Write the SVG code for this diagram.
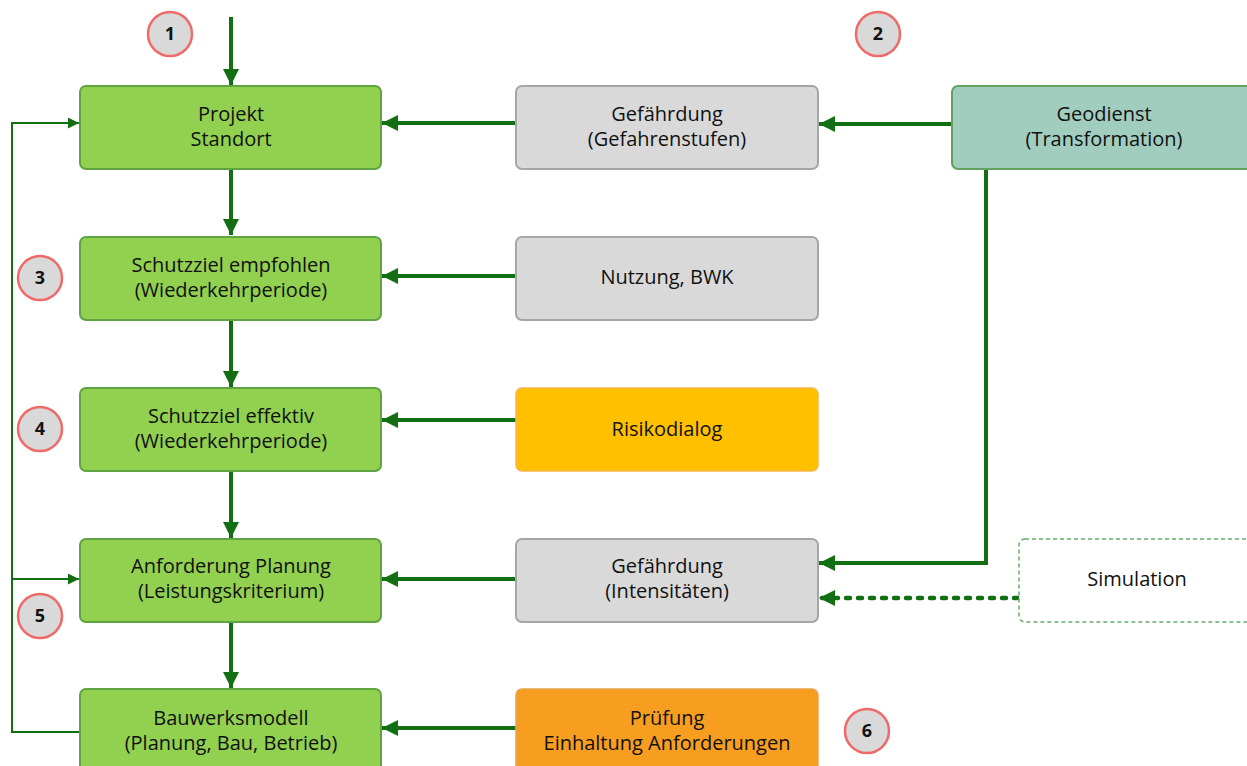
<svg xmlns="http://www.w3.org/2000/svg" width="1247" height="766" viewBox="0 0 1247 766">
  <style>
    .lbl { font-family: "Open Sans", "Noto Sans", "Liberation Sans", sans-serif; font-size: 20px; fill: #111; text-anchor: middle; }
    .num { font-family: "Open Sans", "Noto Sans", "Liberation Sans", sans-serif; font-size: 18px; font-weight: bold; fill: #111; text-anchor: middle; }
    .green { fill: #92d050; stroke: #5fa343; stroke-width: 2; }
    .grey { fill: #d9d9d9; stroke: #a6a6a6; stroke-width: 2; }
    .yellow { fill: #ffc000; stroke: #f8b54a; stroke-width: 1.5; }
    .orange { fill: #f79e21; stroke: #eaa24a; stroke-width: 1.5; }
    .teal { fill: #a1cdbf; stroke: #5fa35f; stroke-width: 2; }
    .sim { fill: #fff; stroke: #6aab6a; stroke-width: 1.5; stroke-dasharray: 4 3; }
    .badge { fill: #d9d9d9; stroke: #f06a6a; stroke-width: 2.5; }
    .thick { fill: none; stroke: #136f13; stroke-width: 4; marker-end: url(#big); }
    .thin { fill: none; stroke: #136f13; stroke-width: 2; }
    .dots { fill: none; stroke: #136f13; stroke-width: 4.5; stroke-dasharray: 4 8; stroke-linecap: round; marker-end: url(#big); }
  </style>
  <defs>
    <marker id="big" viewBox="0 0 10 10" refX="10" refY="5" markerUnits="userSpaceOnUse" markerWidth="16" markerHeight="16" orient="auto">
      <path d="M0,0 L10,5 L0,10 Z" fill="#136f13"/>
    </marker>
    <marker id="small" viewBox="0 0 10 10" refX="10" refY="5" markerUnits="userSpaceOnUse" markerWidth="11" markerHeight="11" orient="auto">
      <path d="M0,0 L10,5 L0,10 Z" fill="#136f13"/>
    </marker>
  </defs>

  <!-- connectors -->
  <g id="connectors">
    <path class="thick" d="M231,17 V85"/>
    <path class="thick" d="M231,169 V235"/>
    <path class="thick" d="M231,320 V387"/>
    <path class="thick" d="M231,471 V538"/>
    <path class="thick" d="M231,622 V688"/>
    <path class="thick" d="M516,123 H382"/>
    <path class="thick" d="M952,124 H819"/>
    <path class="thick" d="M516,276 H382"/>
    <path class="thick" d="M516,420 H382"/>
    <path class="thick" d="M516,579 H382"/>
    <path class="thick" d="M516,728 H382"/>
    <path class="thick" d="M986,169 V563 H819"/>
    <path class="dots" d="M1018,598 H819"/>
    <!-- feedback loop -->
    <path class="thin" d="M80,732 H12 V123 H79" marker-end="url(#small)"/>
    <path class="thin" d="M12,579 H79" marker-end="url(#small)"/>
  </g>

  <g id="projekt">
    <rect class="green" x="80" y="86" width="301" height="83" rx="6"/>
    <text class="lbl" x="231" y="121">Projekt</text>
    <text class="lbl" x="231" y="146">Standort</text>
  </g>
  <g id="schutzziel-empfohlen">
    <rect class="green" x="80" y="237" width="301" height="83" rx="6"/>
    <text class="lbl" x="231" y="272">Schutzziel empfohlen</text>
    <text class="lbl" x="231" y="297">(Wiederkehrperiode)</text>
  </g>
  <g id="schutzziel-effektiv">
    <rect class="green" x="80" y="388" width="301" height="83" rx="6"/>
    <text class="lbl" x="231" y="423">Schutzziel effektiv</text>
    <text class="lbl" x="231" y="448">(Wiederkehrperiode)</text>
  </g>
  <g id="anforderung">
    <rect class="green" x="80" y="539" width="301" height="83" rx="6"/>
    <text class="lbl" x="231" y="573">Anforderung Planung</text>
    <text class="lbl" x="231" y="598">(Leistungskriterium)</text>
  </g>
  <g id="bauwerksmodell">
    <rect class="green" x="80" y="689" width="301" height="90" rx="6"/>
    <text class="lbl" x="231" y="725">Bauwerksmodell</text>
    <text class="lbl" x="231" y="750">(Planung, Bau, Betrieb)</text>
  </g>

  <g id="gefaehrdung-stufen">
    <rect class="grey" x="516" y="86" width="302" height="83" rx="6"/>
    <text class="lbl" x="667" y="121">Gefährdung</text>
    <text class="lbl" x="667" y="146">(Gefahrenstufen)</text>
  </g>
  <g id="nutzung">
    <rect class="grey" x="516" y="237" width="302" height="83" rx="6"/>
    <text class="lbl" x="667" y="284">Nutzung, BWK</text>
  </g>
  <g id="risikodialog">
    <rect class="yellow" x="516" y="388" width="302" height="83" rx="6"/>
    <text class="lbl" x="667" y="436">Risikodialog</text>
  </g>
  <g id="gefaehrdung-intens">
    <rect class="grey" x="516" y="539" width="302" height="83" rx="6"/>
    <text class="lbl" x="667" y="573">Gefährdung</text>
    <text class="lbl" x="667" y="598">(Intensitäten)</text>
  </g>
  <g id="pruefung">
    <rect class="orange" x="516" y="689" width="302" height="90" rx="6"/>
    <text class="lbl" x="667" y="725">Prüfung</text>
    <text class="lbl" x="667" y="750">Einhaltung Anforderungen</text>
  </g>

  <g id="geodienst">
    <rect class="teal" x="952" y="86" width="310" height="83" rx="6"/>
    <text class="lbl" x="1104" y="121">Geodienst</text>
    <text class="lbl" x="1104" y="146">(Transformation)</text>
  </g>
  <g id="simulation">
    <rect class="sim" x="1019" y="539" width="243" height="83" rx="6"/>
    <text class="lbl" x="1137" y="586">Simulation</text>
  </g>

  <g id="badges">
    <circle class="badge" cx="170" cy="34" r="22"/>
    <text class="num" x="170" y="40">1</text>
    <circle class="badge" cx="878" cy="34" r="22"/>
    <text class="num" x="878" y="40">2</text>
    <circle class="badge" cx="40" cy="278" r="22"/>
    <text class="num" x="40" y="284">3</text>
    <circle class="badge" cx="40" cy="429" r="22"/>
    <text class="num" x="40" y="435">4</text>
    <circle class="badge" cx="40" cy="616" r="22"/>
    <text class="num" x="40" y="622">5</text>
    <circle class="badge" cx="867" cy="731" r="22"/>
    <text class="num" x="867" y="737">6</text>
  </g>
</svg>
